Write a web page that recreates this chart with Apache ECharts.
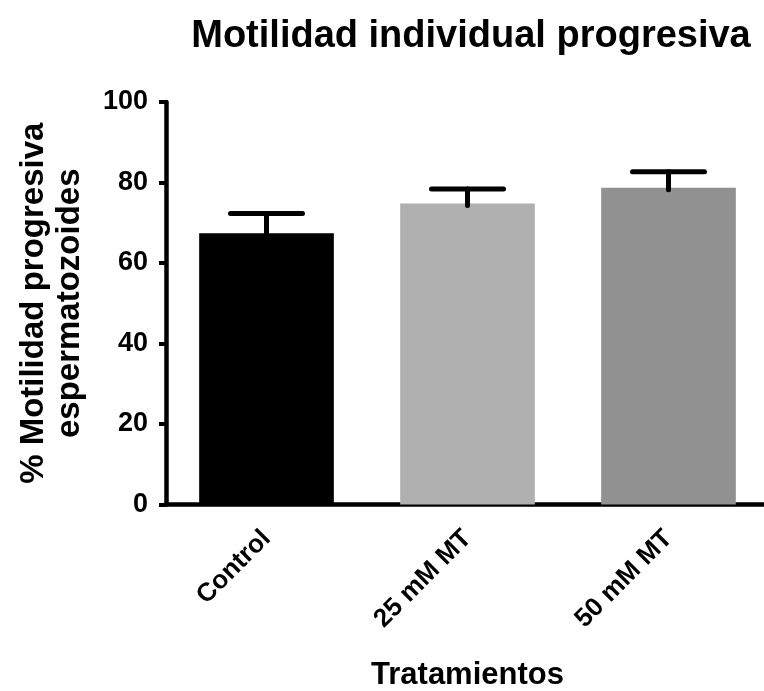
<!DOCTYPE html>
<html>
<head>
<meta charset="utf-8">
<script src="https://cdn.jsdelivr.net/npm/echarts@6/dist/echarts.min.js"></script>
<style>
  html, body { margin: 0; padding: 0; background: #fff; }
  #chart { width: 764px; height: 691px; }
</style>
</head>
<body>
<div id="chart"></div>
<script>
// Treatment groups, mean progressive motility (%) and upper SEM
const categories = ['Control', '25 mM MT', '50 mM MT'];
const means = [67.4, 74.8, 78.7];
const errors = [4.9, 3.6, 4.0];
const barColors = ['#000000', '#b0b0b1', '#919191'];
const yTicks = [0, 20, 40, 60, 80, 100];

const FONT = '"Liberation Sans", Arial, sans-serif';

const chart = echarts.init(document.getElementById('chart'), null, { renderer: 'canvas' });

const errData = categories.map((c, i) => [i, means[i], means[i] + errors[i]]);

chart.setOption({
  animation: false,
  backgroundColor: '#ffffff',
  title: {
    text: 'Motilidad individual progresiva',
    left: 466,
    textAlign: 'center',
    top: 13,
    textStyle: { fontFamily: FONT, fontWeight: 'bold', fontSize: 38, color: '#000' }
  },
  grid: {
    left: 166, top: 102, width: 603, bottom: 186.5,
    outerBoundsMode: 'none', containLabel: false
  },
  xAxis: {
    type: 'category',
    data: categories,
    name: 'Tratamientos',
    nameLocation: 'middle',
    nameGap: 155,
    nameTextStyle: { fontFamily: FONT, fontWeight: 'bold', fontSize: 31, color: '#000' },
    axisLine: { lineStyle: { color: '#000', width: 4.5 } },
    axisTick: { alignWithLabel: true, length: 7, lineStyle: { color: '#000', width: 4 } },
    axisLabel: {
      rotate: 45, margin: 30,
      fontFamily: FONT, fontWeight: 'bold', fontSize: 26, color: '#000'
    }
  },
  yAxis: {
    type: 'value',
    min: 0, max: 100, interval: 20,
    name: '% Motilidad progresiva\nespermatozoides',
    nameLocation: 'middle',
    nameGap: 78,
    nameRotate: 90,
    nameTextStyle: { fontFamily: FONT, fontWeight: 'bold', fontSize: 33, color: '#000', lineHeight: 36, align: 'center' },
    axisLine: { show: true, lineStyle: { color: '#000', width: 4.5 } },
    axisTick: { show: true, length: 7, lineStyle: { color: '#000', width: 4 } },
    splitLine: { show: false },
    axisLabel: {
      margin: 18,
      fontFamily: FONT, fontWeight: 'bold', fontSize: 27, color: '#000',
      customValues: yTicks
    }
  },
  series: [
    {
      type: 'bar',
      data: means.map((v, i) => ({ value: v, itemStyle: { color: barColors[i] } })),
      barWidth: '67%',
      z: 2
    },
    {
      type: 'custom',
      data: errData,
      z: 3,
      renderItem: function (params, api) {
        const base = api.coord([api.value(0), api.value(1)]);
        const top = api.coord([api.value(0), api.value(2)]);
        const half = 36;
        const style = { stroke: '#000', lineWidth: 5, lineCap: 'round' };
        return {
          type: 'group',
          children: [
            { type: 'line', shape: { x1: base[0], y1: base[1] + 2, x2: top[0], y2: top[1] }, style: style },
            { type: 'line', shape: { x1: top[0] - half, y1: top[1], x2: top[0] + half, y2: top[1] }, style: style }
          ]
        };
      }
    }
  ]
});
</script>
</body>
</html>
